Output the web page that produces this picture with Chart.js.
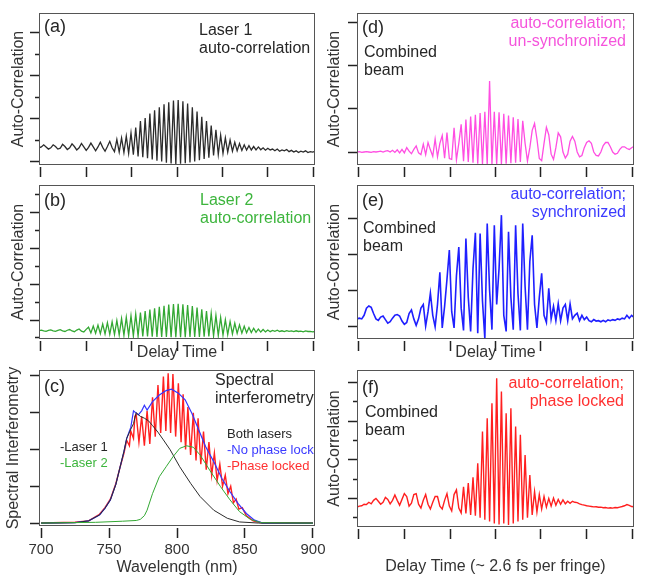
<!DOCTYPE html>
<html>
<head>
<meta charset="utf-8">
<script src="https://cdn.jsdelivr.net/npm/chart.js@4/dist/chart.umd.min.js"></script>
<style>
body { margin: 0; background: #fff; }
#wrap { position: relative; width: 650px; height: 584px; overflow: hidden; font-family: 'Liberation Sans', Arial, sans-serif; color: #262626; }
#wrap canvas { position: absolute; }
.t { position: absolute; font-size: 16px; line-height: 18.4px; white-space: nowrap; }
.lab { font-size: 18px; line-height: 20px; }
.leg { font-size: 13px; line-height: 16.2px; }
.r { text-align: right; }
</style>
</head>
<body>
<div id="wrap">
  <canvas id="cA" width="330" height="183" style="left:0;top:0"></canvas>
  <canvas id="cB" width="330" height="190" style="left:0;top:175px"></canvas>
  <canvas id="cC" width="340" height="222" style="left:0;top:362px"></canvas>
  <canvas id="cD" width="325" height="183" style="left:325px;top:0"></canvas>
  <canvas id="cE" width="325" height="190" style="left:325px;top:175px"></canvas>
  <canvas id="cF" width="325" height="222" style="left:325px;top:362px"></canvas>

  <div class="t lab" style="left:44px;top:16px">(a)</div>
  <div class="t" style="left:199px;top:21px">Laser 1<br>auto-correlation</div>

  <div class="t lab" style="left:44px;top:190px">(b)</div>
  <div class="t" style="left:200px;top:191px;color:#3db53d">Laser 2<br>auto-correlation</div>

  <div class="t lab" style="left:44px;top:376px">(c)</div>
  <div class="t" style="left:215px;top:371px">Spectral<br>interferometry</div>
  <div class="t leg" style="left:60px;top:439px">-Laser 1<br><span style="color:#3db53d">-Laser 2</span></div>
  <div class="t leg" style="left:227px;top:426px">Both lasers<br><span style="color:#3a3aff">-No phase lock</span><br><span style="color:#ff3030">-Phase locked</span></div>

  <div class="t lab" style="left:362px;top:17px">(d)</div>
  <div class="t" style="left:364px;top:43px">Combined<br>beam</div>
  <div class="t r" style="right:24px;top:14px;color:#f554dc">auto-correlation;<br>un-synchronized</div>

  <div class="t lab" style="left:362px;top:190px">(e)</div>
  <div class="t" style="left:363px;top:219px">Combined<br>beam</div>
  <div class="t r" style="right:24px;top:185px;color:#3a3aff">auto-correlation;<br>synchronized</div>

  <div class="t lab" style="left:362px;top:377px">(f)</div>
  <div class="t" style="left:365px;top:403px">Combined<br>beam</div>
  <div class="t r" style="right:26px;top:374px;color:#ff3030">auto-correlation;<br>phase locked</div>
</div>
<script>
// Auto-correlation traces, one reading per sample along the delay scan (a.u.)
const laser1Autocorr = [
    0.66, 0.7, 0.8, 0.7, 0.6, 0.66, 0.8, 0.72, 0.6, 0.64, 0.82, 0.72, 0.58, 0.66, 0.84, 0.72,
    0.56, 0.66, 0.86, 0.7, 0.54, 0.68, 0.88, 0.7, 0.52, 0.7, 0.92, 0.68, 0.5, 0.72, 0.96, 0.66,
    0.48, 1.05, 0.46, 1.12, 0.44, 1.2,
    0.4, 1.35, 0.34, 1.6, 0.26, 1.9, 0.22, 2.05, 0.17, 2.25, 0.12, 2.4, 0.06, 2.55, 0.02, 2.68,
    -0.03, 2.78, -0.07, 2.86, -0.09, 2.88, -0.08, 2.82, -0.06, 2.72, -0.02, 2.55, 0.02, 2.35,
    0.08, 2.1, 0.14, 1.9, 0.2, 1.7, 0.3, 1.5, 0.35, 1.25, 0.4, 1.12, 0.46, 1.02, 0.5, 0.92,
    0.52, 0.86, 0.54, 0.8, 0.56, 0.76, 0.56, 0.72, 0.56, 0.7,
    0.57, 0.66, 0.55, 0.64, 0.56, 0.6, 0.52, 0.6, 0.5, 0.56, 0.52, 0.58, 0.48, 0.54, 0.46, 0.52,
    0.44, 0.5, 0.46, 0.52, 0.44, 0.48, 0.46, 0.5
];
const laser2Autocorr = [
    0.41, 0.44, 0.4, 0.37, 0.42, 0.45, 0.4, 0.37, 0.42, 0.46, 0.4, 0.36, 0.43, 0.47, 0.39, 0.35,
    0.44, 0.5, 0.38, 0.33, 0.48,
    0.6, 0.28, 0.66, 0.26, 0.72, 0.24, 0.78, 0.22, 0.85, 0.2, 0.9, 0.19, 0.98, 0.17, 1.08, 0.15,
    1.15, 0.13, 1.24, 0.11, 1.33, 0.1, 1.42, 0.09, 1.5, 0.08, 1.58, 0.07, 1.66, 0.06, 1.74, 0.05,
    1.8, 0.05, 1.86, 0.04, 1.9, 0.04, 1.91, 0.04, 1.88, 0.04, 1.84, 0.05, 1.78, 0.05, 1.7, 0.06,
    1.6, 0.07, 1.5, 0.09, 1.38, 0.11, 1.26, 0.13, 1.14, 0.16, 1.02, 0.19, 0.92, 0.22, 0.82, 0.25,
    0.73, 0.27, 0.65, 0.29, 0.58, 0.3, 0.54, 0.31, 0.5, 0.33, 0.47,
    0.34, 0.44, 0.35, 0.42, 0.37, 0.43, 0.36, 0.4, 0.35, 0.41, 0.37, 0.39, 0.35, 0.4, 0.36, 0.38,
    0.34, 0.39, 0.36, 0.37, 0.34, 0.36
];
const unsyncAutocorr = [
    0.0, 0.01, -0.01, 0.0, 0.01, 0.0, -0.01, 0.01, 0.0, 0.01, 0.02, 0.0, 0.02, 0.03, 0.0,
    0.04, -0.01, 0.05, -0.02, 0.06, -0.02,
    0.1, 0.02, -0.04, 0.06, 0.14, -0.02, -0.06, 0.18, -0.06, 0.22, 0.05, -0.1, 0.3, -0.11, 0.2,
    0.38, -0.14, 0.45, -0.15, -0.17, 0.56, -0.18, 0.2, 0.64, -0.21, 0.75, -0.23, 0.82, -0.25,
    0.86, -0.27, 0.9, -0.28, 0.93, -0.29,
    1.64,
    -0.29, 0.93, -0.29, 0.92, -0.28, 0.88, -0.27, 0.84, -0.26, 0.8, -0.25, 0.76, -0.23, 0.72,
    0.2, -0.21, 0.1, 0.5, 0.66, 0.3, -0.15, -0.2, 0.2, 0.57, 0.4, -0.05, -0.17, 0.1, 0.44,
    0.35, 0.0, -0.14, -0.05, 0.25, 0.36, 0.25, 0.0, -0.11, -0.08, 0.1, 0.22, 0.26, 0.2, 0.0,
    -0.08, -0.09, 0.0, 0.15, 0.22, 0.22, 0.12, 0.0, -0.05, -0.03, 0.06, 0.12, 0.12, 0.08, 0.06,
    0.1, 0.13
];
const syncAutocorr = [
    0.2, 0.22, 0.2, 0.3, 0.5, 0.56, 0.52, 0.35, 0.2, 0.16, 0.25, 0.28, 0.18, 0.08, 0.12, 0.22,
    0.3, 0.32, 0.28, 0.14, 0.05, 0.1, 0.35, 0.45, 0.2, 0.02, 0.2, 0.5, 0.6, 0.0, 0.4, 0.92,
    0.3, -0.02, 0.6, 1.5, -0.05, 0.55, 1.3, 2.12, 0.4, -0.05, 1.4, 2.2, 0.5, -0.12, 2.44, 0.8,
    -0.15, 1.6, 2.6, -0.2, 2.58, 0.7, -0.35, 2.86, 1.0, -0.1, 2.81, 0.6, 1.6, 3.09, 0.3, -0.15,
    2.63, 0.8, -0.1, 2.81, 0.9, -0.12, 2.86, 1.1, -0.1, 1.8, 2.53, 0.6, -0.05, 0.8, 1.47, 0.3,
    0.1, 1.05, 0.2, 0.55, 0.15, 0.62, 0.15, 0.5, 0.6, 0.15, 0.62, 0.2, 0.3, 0.36, 0.15, 0.3,
    0.18, 0.25, 0.15, 0.12, 0.18, 0.14, 0.15, 0.12, 0.16, 0.12, 0.17, 0.15, 0.18, 0.16, 0.2, 0.18,
    0.22, 0.2, 0.3, 0.22, 0.3, 0.24
];
const lockedAutocorr = [
    0.55, 0.6, 0.62, 0.7, 0.68, 0.8, 0.72, 0.9, 1.0, 0.85, 0.7, 0.8, 1.05, 0.95, 0.72, 0.9,
    1.18, 0.9, 0.65, 0.95, 1.25, 1.1, 0.6, 0.75, 1.2, 1.25, 0.7, 0.5, 0.9, 1.2, 0.7, 0.45,
    0.8, 1.1, 1.1, 0.6, 0.45, 0.9, 1.25, 0.6, 0.35, 1.2, 1.44, 0.5,
    0.25, 1.6, 0.22, 1.8, 0.15, 2.1, 0.1, 2.82, 0.0, 4.46, -0.1, 5.15, -0.2, 5.93, -0.3, 7.22,
    -0.35, 6.53, -0.3, 5.41, -0.38, 5.67, -0.3, 4.72, -0.2, 4.29, -0.1, 3.25, 0.0, 2.21, 0.15,
    1.35, 0.3, 1.2, 0.45, 1.1, 0.55, 1.0, 0.6, 1.02, 0.65, 0.95, 0.7, 0.92, 0.72, 0.85, 0.75,
    0.85, 0.8, 0.78, 0.72, 0.68, 0.65, 0.62, 0.6, 0.58, 0.56, 0.57, 0.54, 0.55, 0.52, 0.53, 0.5,
    0.52, 0.5, 0.53, 0.52, 0.55, 0.58, 0.62, 0.68, 0.64, 0.58, 0.57
];

// Spectra for panel (c): wavelength (nm) and intensity (a.u.)
const laser1Wl = [700, 725, 735, 743, 747, 751, 755, 758, 761, 763, 766, 768, 770, 773, 776, 779, 782, 786, 790, 795, 802, 810, 817, 827, 837, 846, 860, 900];
const laser1Spec = [0.0, 0.01, 0.06, 0.22, 0.4, 0.63, 1.05, 1.5, 1.95, 2.3, 2.55, 2.7, 3.0, 2.9, 2.85, 2.78, 2.65, 2.47, 2.26, 1.99, 1.53, 1.08, 0.72, 0.35, 0.13, 0.03, 0.0, 0.0];
const laser2Wl = [700, 740, 760, 770, 773, 776, 778, 782, 787, 792, 797, 802, 807, 812, 817, 824, 832, 839, 846, 854, 862, 900];
const laser2Spec = [0.0, 0.02, 0.05, 0.07, 0.1, 0.2, 0.35, 0.8, 1.26, 1.53, 1.8, 2.03, 2.1, 2.06, 1.85, 1.44, 0.99, 0.63, 0.31, 0.1, 0.01, 0.0];
const noLockWl = [700, 725, 735, 743, 747, 751, 755, 758, 761, 763, 766, 768, 771.5, 774, 776, 778, 782, 787, 792, 796, 801, 806, 811, 816, 821, 827, 833, 839, 845, 851, 857, 863, 900];
const noLockSpec = [0.0, 0.01, 0.06, 0.22, 0.4, 0.63, 1.05, 1.5, 1.95, 2.3, 2.6, 3.05, 2.94, 3.05, 3.2, 3.07, 3.3, 3.48, 3.6, 3.64, 3.53, 3.35, 2.98, 2.53, 2.08, 1.67, 1.21, 0.85, 0.53, 0.26, 0.08, 0.0, 0.0];
const lockedWl = [700, 725, 735, 743, 747, 751, 755, 758, 761, 763, 765, 766, 768, 769,
    770, 772, 774, 776, 778, 780, 782, 784, 786, 788, 790, 791.8, 793.5, 795.3, 797, 799, 801, 803,
    804.5, 806.3, 808, 810, 812, 814, 815.5, 817.5, 819.5, 821.5, 823.5, 825.5, 827.5, 829.5,
    831.5, 833.5, 835.5, 837.5, 839.5, 841.5, 843.5, 845.5, 848, 851, 856, 862, 880, 900];
const lockedSpec = [0.0, 0.02, 0.06, 0.24, 0.42, 0.65, 1.07, 1.5, 1.9, 2.25, 2.1, 2.5, 2.3, 2.9,
    2.95, 2.2, 2.9, 2.1, 3.05, 2.15, 3.42, 2.35, 3.75, 2.45, 3.98, 2.5, 4.07, 2.45, 4.05, 2.35, 3.8, 2.2,
    3.5, 2.0, 3.15, 1.85, 3.0, 1.7, 2.85, 1.6, 2.49, 1.45, 2.2, 1.3, 1.9, 1.15,
    1.6, 1.0, 1.3, 0.8, 1.0, 0.55, 0.65, 0.38, 0.42, 0.2, 0.06, 0.01, 0.01, 0.0];

// Axis ticks
const wavelengthTicks = [700, 750, 800, 850, 900];
const intensityTicks = [0, 1, 2, 3, 4];
const delayTickFrac = [0.007, 0.171, 0.336, 0.5, 0.664, 0.829, 0.993];
const ticksA = [0, 1, 2, 3, 4, 5, 6];
const ticksB = [0, 1, 2, 3, 4, 5, 6, 7, 8];
const ticksD = [0, 1, 2, 3];
const ticksE = [0, 1, 2, 3];
const ticksF = [0, 1, 2, 3, 4, 5, 6, 7];

Chart.defaults.font.family = "'Liberation Sans', Arial, sans-serif";
Chart.defaults.color = '#333';
Chart.defaults.animation = false;

// box round the plot area
const framePlugin = {
    id: 'frame',
    afterDraw(chart) {
        const a = chart.chartArea;
        const ctx = chart.ctx;
        ctx.save();
        ctx.strokeStyle = '#555';
        ctx.lineWidth = 1;
        ctx.strokeRect(a.left + 0.5, a.top + 0.5, a.right - a.left - 1, a.bottom - a.top - 1);
        ctx.restore();
    }
};

function pairs(xs, ys) {
    return xs.map((x, i) => ({ x: x, y: ys[i] }));
}

function yAxis(min, max, tickVals, width, titleText, titlePad, isMinor) {
    return {
        min: min, max: max,
        afterBuildTicks: s => { s.ticks = tickVals.map(v => ({ value: v })); },
        afterFit: s => { s.width = width; },
        ticks: { display: false },
        grid: {
            drawOnChartArea: false, tickLength: 9, tickWidth: 1.5, tickColor: '#222',
            tickBorderDash: c => (c.tick && isMinor(c.tick.value)) ? [0, 5, 4, 0] : []
        },
        border: { display: false },
        title: { display: true, text: titleText, color: '#333', font: { size: 16, lineHeight: 1.2 }, padding: { top: titlePad, bottom: 0 } }
    };
}

function delayAxis(n, height, titleText, titlePadBottom) {
    return {
        type: 'linear', min: 0, max: n - 1,
        afterBuildTicks: s => { s.ticks = delayTickFrac.map(f => ({ value: s.min + (s.max - s.min) * f })); },
        afterFit: s => { s.height = height; },
        ticks: { display: false },
        grid: { drawOnChartArea: false, tickLength: 12, tickWidth: 1.5, tickColor: '#222', tickBorderDash: [0, 2, 10, 0] },
        border: { display: false },
        title: { display: !!titleText, text: titleText || '', color: '#333', font: { size: 16, lineHeight: 1.2 }, padding: { top: 0, bottom: titlePadBottom } }
    };
}

function autocorrChart(id, signal, color, width, pad, yOpts, xOpts) {
    new Chart(document.getElementById(id), {
        type: 'line',
        data: {
            labels: signal.map((v, i) => i),
            datasets: [{ data: signal, borderColor: color, borderWidth: width, pointRadius: 0, tension: 0, fill: false }]
        },
        options: {
            responsive: false,
            layout: { padding: pad },
            plugins: { legend: { display: false }, tooltip: { enabled: false } },
            scales: { x: xOpts, y: yOpts }
        },
        plugins: [framePlugin]
    });
}

const minorOdd = v => v % 2 !== 0;
const minorEven = v => v % 2 === 0;
const noMinor = v => false;

autocorrChart('cA', laser1Autocorr, '#2b2b2b', 1.3, { top: 13, right: 15, left: 0, bottom: 0 },
    yAxis(-0.14, 6.93, ticksA, 39, 'Auto-Correlation', 9, minorOdd),
    delayAxis(laser1Autocorr.length, 18, null, 0));

autocorrChart('cB', laser2Autocorr, '#33a833', 1.3, { top: 10, right: 15, left: 0, bottom: 3 },
    yAxis(-0.06, 8.55, ticksB, 39, 'Auto-Correlation', 9, minorEven),
    delayAxis(laser2Autocorr.length, 23, 'Delay Time', 0));

autocorrChart('cD', unsyncAutocorr, '#ff4ee2', 1.3, { top: 13, right: 16, left: 0, bottom: 0 },
    yAxis(-0.3, 3.21, ticksD, 32, 'Auto-Correlation', 0, noMinor),
    delayAxis(unsyncAutocorr.length, 18, null, 0));

autocorrChart('cE', syncAutocorr, '#1f1fff', 1.6, { top: 10, right: 16, left: 0, bottom: 3 },
    yAxis(-0.36, 3.93, ticksE, 32, 'Auto-Correlation', 0, noMinor),
    delayAxis(syncAutocorr.length, 23, 'Delay Time', 0));

autocorrChart('cF', lockedAutocorr, '#ff1f1f', 1.4, { top: 8, right: 16, left: 0, bottom: 8 },
    yAxis(-0.48, 7.65, ticksF, 32, 'Auto-Correlation', 0, minorEven),
    delayAxis(lockedAutocorr.length, 49, 'Delay Time (~ 2.6 fs per fringe)', 0));

// Panel (c): spectral interferometry
new Chart(document.getElementById('cC'), {
    type: 'line',
    data: {
        datasets: [
            { data: pairs(laser2Wl, laser2Spec), borderColor: '#33a833', borderWidth: 1, pointRadius: 0, tension: 0 },
            { data: pairs(laser1Wl, laser1Spec), borderColor: '#2b2b2b', borderWidth: 1, pointRadius: 0, tension: 0 },
            { data: pairs(noLockWl, noLockSpec), borderColor: '#3535ff', borderWidth: 1.2, pointRadius: 0, tension: 0 },
            { data: pairs(lockedWl, lockedSpec), borderColor: '#ff2020', borderWidth: 1.4, pointRadius: 0, tension: 0 }
        ]
    },
    options: {
        responsive: false,
        layout: { padding: { top: 8, right: 25, left: 0, bottom: 7 } },
        plugins: { legend: { display: false }, tooltip: { enabled: false } },
        scales: {
            x: {
                type: 'linear', min: 698.5, max: 901.5,
                afterBuildTicks: s => { s.ticks = wavelengthTicks.map(v => ({ value: v })); },
                afterFit: s => { s.height = 51; },
                ticks: { display: true, autoSkip: false, maxRotation: 0, padding: 3, color: '#333', font: { size: 15 } },
                grid: { drawOnChartArea: false, tickLength: 12, tickWidth: 1.5, tickColor: '#222', tickBorderDash: [0, 2, 10, 0] },
                border: { display: false },
                title: { display: true, text: 'Wavelength (nm)', color: '#333', font: { size: 16, lineHeight: 1.2 }, padding: { top: 0, bottom: 0 } }
            },
            y: yAxis(-0.08, 4.16, intensityTicks, 39, 'Spectral Interferometry', 4, noMinor)
        }
    },
    plugins: [framePlugin]
});
</script>
</body>
</html>
